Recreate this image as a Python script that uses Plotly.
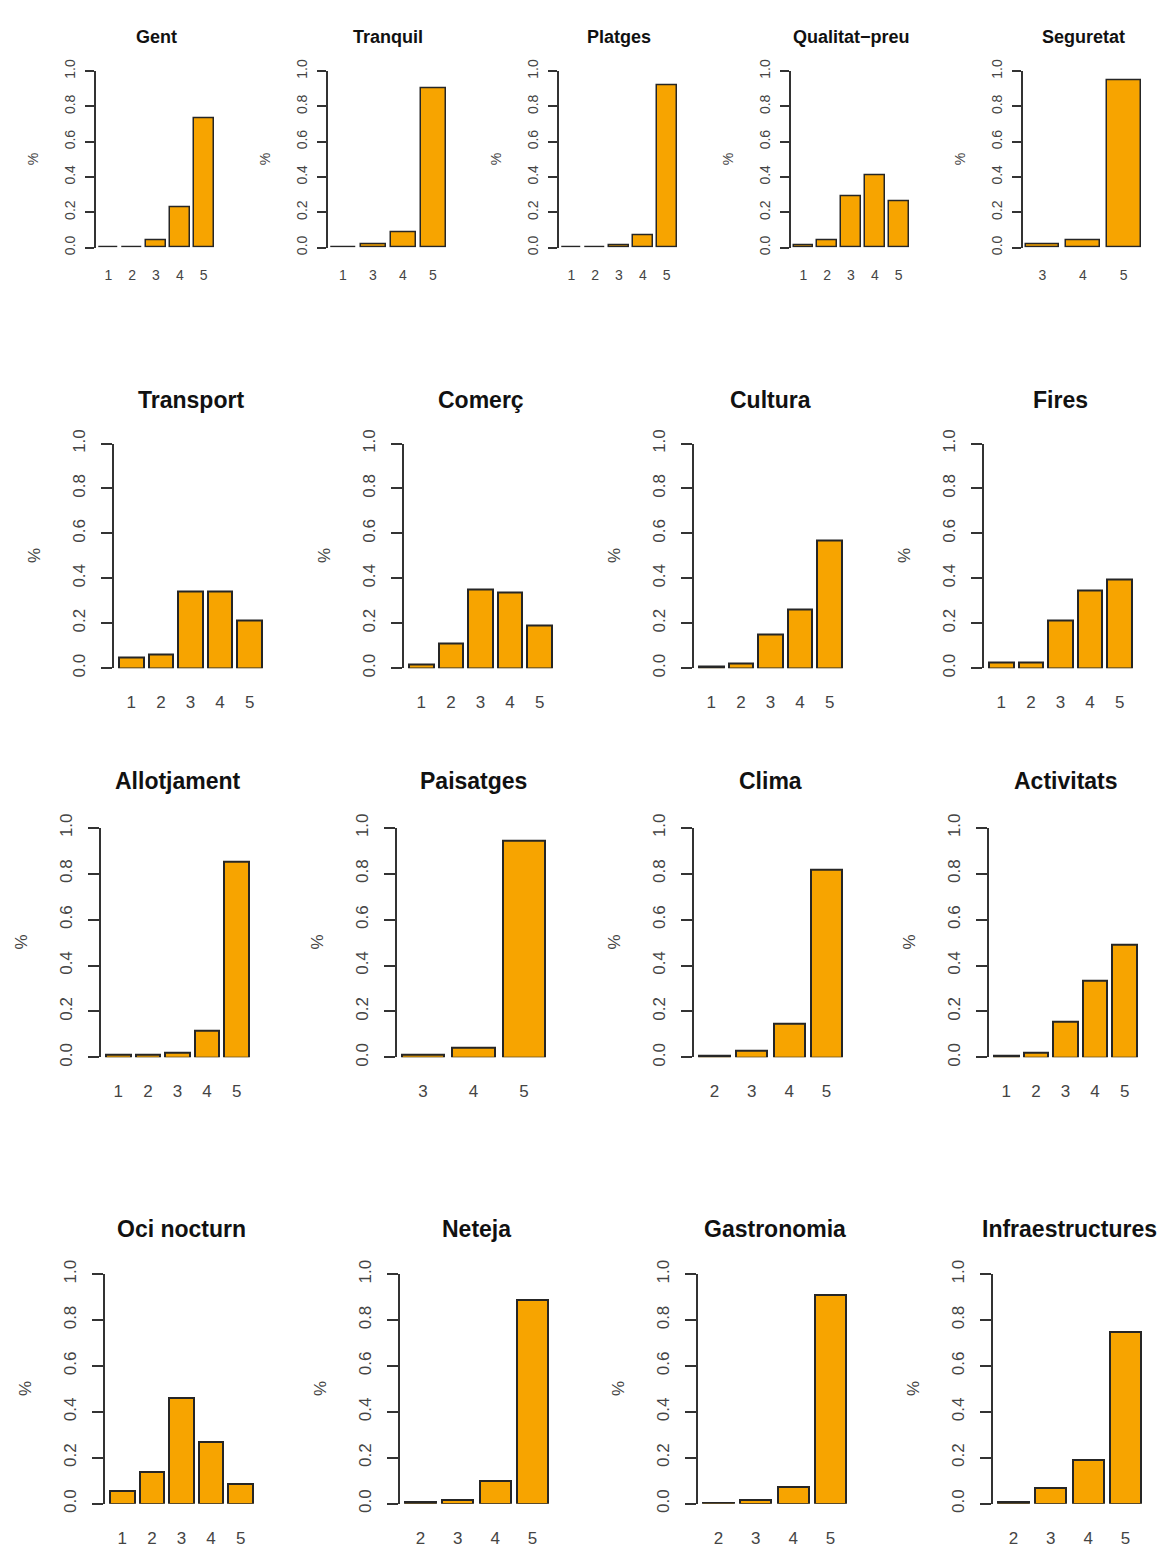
import plotly.graph_objects as go

# ---------------- data ----------------
titles = ["Gent", "Tranquil", "Platges", "Qualitat\u2212preu", "Seguretat",
          "Transport", "Comerç", "Cultura", "Fires",
          "Allotjament", "Paisatges", "Clima", "Activitats",
          "Oci nocturn", "Neteja", "Gastronomia", "Infraestructures"]

gent_lab = ["1", "2", "3", "4", "5"]
gent_val = [0.002, 0.002, 0.043, 0.228, 0.735]
tranquil_lab = ["1", "3", "4", "5"]
tranquil_val = [0.002, 0.017, 0.089, 0.904]
platges_lab = ["1", "2", "3", "4", "5"]
platges_val = [0.002, 0.002, 0.015, 0.072, 0.922]
qualitat_lab = ["1", "2", "3", "4", "5"]
qualitat_val = [0.015, 0.039, 0.289, 0.413, 0.265]
seguretat_lab = ["3", "4", "5"]
seguretat_val = [0.019, 0.039, 0.950]

transport_lab = ["1", "2", "3", "4", "5"]
transport_val = [0.047, 0.062, 0.339, 0.339, 0.214]
comerc_lab = ["1", "2", "3", "4", "5"]
comerc_val = [0.015, 0.108, 0.352, 0.337, 0.192]
cultura_lab = ["1", "2", "3", "4", "5"]
cultura_val = [0.006, 0.020, 0.148, 0.262, 0.567]
fires_lab = ["1", "2", "3", "4", "5"]
fires_val = [0.025, 0.025, 0.214, 0.345, 0.393]

allotjament_lab = ["1", "2", "3", "4", "5"]
allotjament_val = [0.010, 0.010, 0.019, 0.115, 0.851]
paisatges_lab = ["3", "4", "5"]
paisatges_val = [0.010, 0.043, 0.944]
clima_lab = ["2", "3", "4", "5"]
clima_val = [0.007, 0.030, 0.148, 0.818]
activitats_lab = ["1", "2", "3", "4", "5"]
activitats_val = [0.006, 0.020, 0.154, 0.334, 0.491]

oci_lab = ["1", "2", "3", "4", "5"]
oci_val = [0.053, 0.137, 0.458, 0.268, 0.087]
neteja_lab = ["2", "3", "4", "5"]
neteja_val = [0.006, 0.014, 0.097, 0.888]
gastro_lab = ["2", "3", "4", "5"]
gastro_val = [0.002, 0.017, 0.074, 0.910]
infra_lab = ["2", "3", "4", "5"]
infra_val = [0.005, 0.066, 0.189, 0.747]

labels = [gent_lab, tranquil_lab, platges_lab, qualitat_lab, seguretat_lab,
          transport_lab, comerc_lab, cultura_lab, fires_lab,
          allotjament_lab, paisatges_lab, clima_lab, activitats_lab,
          oci_lab, neteja_lab, gastro_lab, infra_lab]
values = [gent_val, tranquil_val, platges_val, qualitat_val, seguretat_val,
          transport_val, comerc_val, cultura_val, fires_val,
          allotjament_val, paisatges_val, clima_val, activitats_val,
          oci_val, neteja_val, gastro_val, infra_val]

y_ticks = [0, 0.2, 0.4, 0.6, 0.8, 1.0]
y_ticktext = ["0.0", "0.2", "0.4", "0.6", "0.8", "1.0"]

# ---------------- layout (pixels) ----------------
W, H = 1175, 1558
small = dict(top=58, bottom=237, bars=115, lg=2.5, rg=3, title_y=23, tsize=18,
             fsize=14, ticklen=9, lw=1.5, pct=63, ystand=5, xstand=17)
big = dict(bars=143, lg=5, rg=5, tsize=23, fsize=17, ticklen=11, lw=2,
           pct=79, ystand=9, xstand=22)
rows = [
    dict(small, axes=[96, 328, 559, 791, 1023]),
    dict(big, axes=[114, 404, 694, 984], top=436, bottom=664, title_y=392),
    dict(big, axes=[101, 397, 694, 989], top=826, bottom=1059, title_y=778),
    dict(big, axes=[105, 400, 698, 993], top=1279, bottom=1512, title_y=1233),
]

FONT = "Liberation Sans, Arial, sans-serif"
BAR_FILL = "#F7A400"
BAR_LINE = "#262626"
AX_COL = "#333333"
TXT_COL = "#444444"

fig = go.Figure()
annotations = []
layout = {}
k = 0
for r in rows:
    for ax_px in r["axes"]:
        labs = labels[k]
        vals = values[k]
        n = len(vals)
        xs = [0.7 + 1.2 * i for i in range(n)]
        span_units = n * 1.2 - 0.2
        s = r["bars"] / span_units
        x0 = 0.2 - r["lg"] / s
        x1 = n * 1.2 + r["rg"] / s
        left_px = ax_px
        right_px = ax_px + r["lg"] + r["bars"] + r["rg"]
        idx = "" if k == 0 else str(k + 1)
        fig.add_trace(go.Bar(
            x=xs, y=vals, width=1.0,
            marker=dict(color=BAR_FILL, line=dict(color=BAR_LINE, width=r["lw"])),
            xaxis="x" + idx, yaxis="y" + idx, showlegend=False,
            hovertemplate="%{y:.3f}<extra></extra>"))
        layout["xaxis" + idx] = dict(
            domain=[left_px / W, right_px / W], range=[x0, x1],
            anchor="y" + idx, showline=False, showgrid=False, zeroline=False,
            ticks="", tickvals=xs, ticktext=labs,
            tickfont=dict(family=FONT, size=r["fsize"], color=TXT_COL),
            ticklabelstandoff=r["xstand"], fixedrange=True)
        layout["yaxis" + idx] = dict(
            domain=[1 - r["bottom"] / H, 1 - r["top"] / H], range=[0, 1.0],
            anchor="x" + idx, showline=True, linecolor=AX_COL, linewidth=r["lw"],
            showgrid=False, zeroline=False, ticks="outside", ticklen=r["ticklen"],
            tickwidth=r["lw"], tickcolor=AX_COL, tickvals=y_ticks,
            ticktext=y_ticktext, tickangle=-90,
            tickfont=dict(family=FONT, size=r["fsize"], color=TXT_COL),
            ticklabelstandoff=r["ystand"], fixedrange=True)
        cx = (left_px + right_px) / 2
        annotations.append(dict(
            x=cx / W, y=1 - r["title_y"] / H, xref="paper", yref="paper",
            text="<b>" + titles[k] + "</b>", showarrow=False,
            xanchor="center", yanchor="middle",
            font=dict(family=FONT, size=r["tsize"], color="#111111")))
        annotations.append(dict(
            x=(ax_px - r["pct"]) / W, y=1 - (r["top"] + r["bottom"]) / 2 / H,
            xref="paper", yref="paper", text="%", textangle=-90, showarrow=False,
            xanchor="center", yanchor="middle",
            font=dict(family=FONT, size=r["fsize"], color=TXT_COL)))
        k += 1

fig.update_layout(
    width=W, height=H, margin=dict(l=0, r=0, t=0, b=0),
    paper_bgcolor="white", plot_bgcolor="white",
    annotations=annotations, bargap=0, **layout)

post = (
    "document.body.style.margin='0px';"
    "document.body.style.overflow='hidden';"
)
fig.write_html("out.html", config={"displayModeBar": False}, post_script=post)
